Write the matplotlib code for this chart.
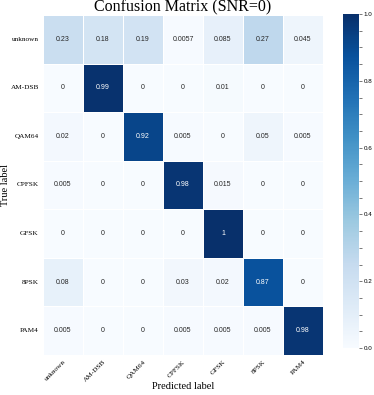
import numpy as np
import matplotlib
matplotlib.use("Agg")
import matplotlib.pyplot as plt
import seaborn as sns
from matplotlib.ticker import MultipleLocator

labels = ["unknown", "AM-DSB", "QAM64", "CPFSK", "GFSK", "8PSK", "PAM4"]
row_unknown = [0.23, 0.18, 0.19, 0.0057, 0.085, 0.27, 0.045]
row_amdsb = [0, 0.99, 0, 0, 0.01, 0, 0]
row_qam64 = [0.02, 0, 0.92, 0.005, 0, 0.05, 0.005]
row_cpfsk = [0.005, 0, 0, 0.98, 0.015, 0, 0]
row_gfsk = [0, 0, 0, 0, 1, 0, 0]
row_8psk = [0.08, 0, 0, 0.03, 0.02, 0.87, 0]
row_pam4 = [0.005, 0, 0, 0.005, 0.005, 0.005, 0.98]

cm = np.array([row_unknown, row_amdsb, row_qam64, row_cpfsk, row_gfsk, row_8psk, row_pam4])

fig = plt.figure(figsize=(3.74, 3.95), dpi=100)
ax = fig.add_axes([43/374, 1 - 355/395, 280/374, 340/395])
cax = fig.add_axes([343/374, 1 - 348/395, 16/374, 334/395])

sns.heatmap(cm, ax=ax, cbar_ax=cax, cmap="Blues", vmin=0, vmax=1,
            annot=True, fmt=".2g", linewidths=0.6, linecolor="white",
            annot_kws={"fontsize": 5, "family": "Liberation Sans"},
            xticklabels=labels, yticklabels=labels)

serif = "Liberation Serif"
ax.set_xticklabels(labels, rotation=45, ha="right", rotation_mode="anchor",
                   fontsize=5.2, family=serif)
ax.set_yticklabels(labels, rotation=0, fontsize=5.2, family=serif)
ax.tick_params(axis="both", length=0, pad=3)
ax.set_xlabel("Predicted label", fontsize=7.5, family=serif)
ax.set_ylabel("True label", fontsize=7.5, family=serif)
ax.xaxis.set_label_coords(0.5, -27/340)
ax.yaxis.set_label_coords(-33/280, 0.5)
ax.set_title("Confusion Matrix (SNR=0)", fontsize=11.5, family=serif, pad=1)

cax.yaxis.set_major_locator(MultipleLocator(0.2))
cax.yaxis.set_minor_locator(MultipleLocator(0.05))
cax.tick_params(which="major", length=2.5, width=0.5, labelsize=4.5, pad=1, color="#444444")
cax.tick_params(which="minor", length=1.8, width=0.5, color="#444444")
for t in cax.get_yticklabels():
    t.set_family("Liberation Sans")
for s in cax.spines.values():
    s.set_visible(False)

fig.savefig("out.png", dpi=100)
